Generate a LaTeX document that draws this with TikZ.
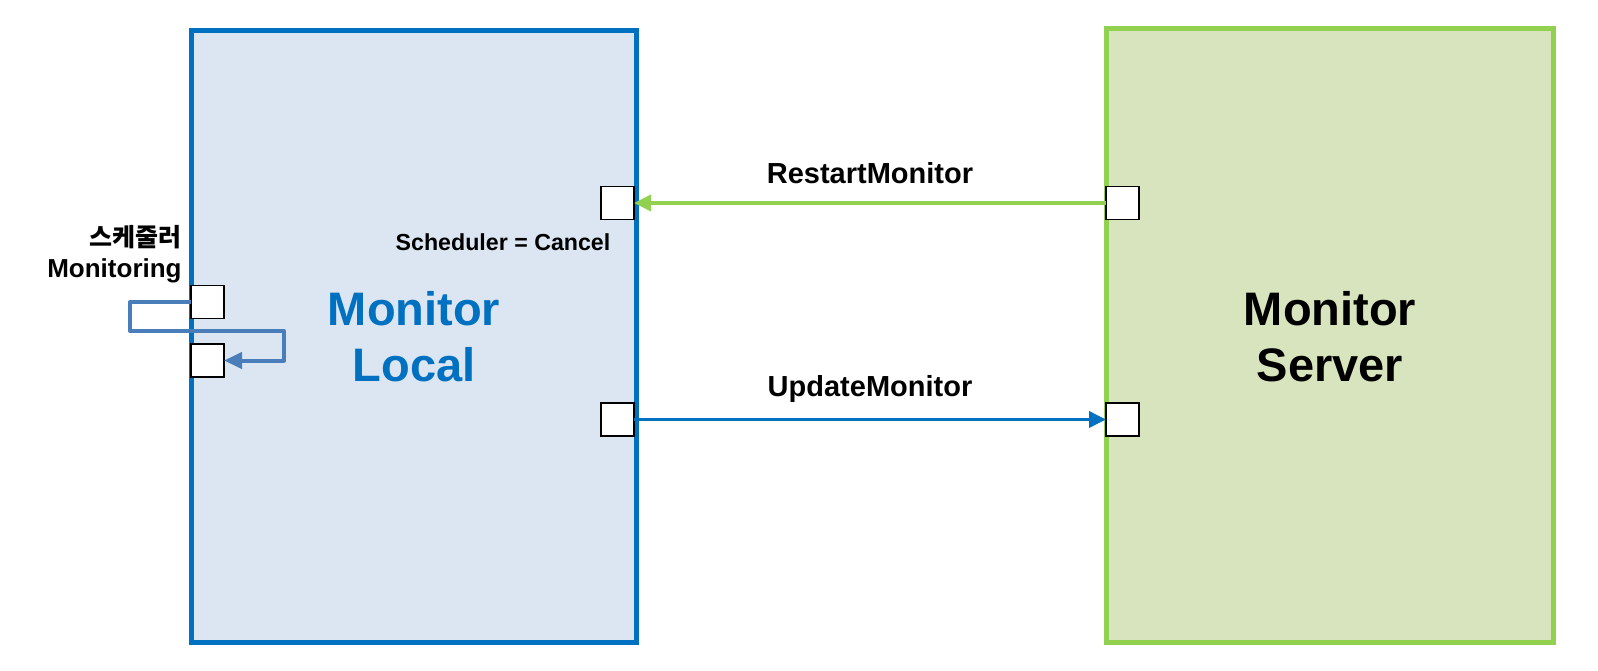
\documentclass[tikz,border=0pt]{standalone}
\usepackage{fontspec}
\setmainfont{Liberation Sans}
\newfontfamily\krfont{Noto Sans CJK KR}
\usetikzlibrary{arrows.meta}
\definecolor{locfill}{HTML}{DCE6F2}
\definecolor{locline}{HTML}{0070C0}
\definecolor{srvfill}{HTML}{D7E4BD}
\definecolor{srvline}{HTML}{92D050}
\definecolor{loopcol}{HTML}{4A7EBB}
\begin{document}
\begin{tikzpicture}[x=0.5pt,y=-0.5pt,
  port/.style={draw=black,fill=white,line width=0.9pt,minimum width=16.5pt,minimum height=16.5pt,inner sep=0pt,outer sep=0pt},
  conn/.style={line width=1.8pt,-{Triangle[length=8.5pt,width=8pt]}},
  lbl/.style={font=\bfseries\fontsize{14.5}{16}\selectfont,inner sep=0pt}]
\useasboundingbox (0,0) rectangle (1598,670);
% containers
\node[draw=locline,fill=locfill,line width=2.5pt,minimum width=222.5pt,minimum height=306pt,inner sep=0pt] (local) at (413.5,336) {};
\node[draw=srvline,fill=srvfill,line width=2.5pt,minimum width=223.5pt,minimum height=307pt,inner sep=0pt] (server) at (1329.5,335) {};
\node[font=\bfseries\fontsize{23.5}{28}\selectfont,text=locline,align=center,inner sep=0pt] (loctxt) at (414,337) {Monitor\\[0pt]Local};
\node[font=\bfseries\fontsize{23.5}{28}\selectfont,align=center,inner sep=0pt] (srvtxt) at (1330,337) {Monitor\\[0pt]Server};
% ports
\node[port] (lr1) at (617.5,203) {};
\node[port] (lr2) at (617.5,419.5) {};
\node[port] (sr1) at (1122.5,203) {};
\node[port] (sr2) at (1122.5,419.5) {};
\node[port] (ll1) at (207.5,302) {};
\node[port] (ll2) at (207.5,360.5) {};
% arrows
\draw[conn,draw=srvline] (sr1.west) -- (lr1.east);
\draw[conn,draw=locline] (lr2.east) -- (sr2.west);
\coordinate (c1) at (130,302);
\coordinate (c2) at (130,331);
\coordinate (c3) at (284,331);
\coordinate (c4) at (284,360.5);
\draw[draw=loopcol,line width=2pt,line join=round,-{Triangle[length=9pt,width=8pt]}] (ll1.west) -- (c1) -- (c2) -- (c3) -- (c4) -- (ll2.east);
% labels
\node[lbl] (rl) at (870,173) {RestartMonitor};
\node[lbl] (ul) at (870,389) {UpdateMonitor};
\node[font=\bfseries\fontsize{11.6}{13}\selectfont,inner sep=0pt] (sc) at (503,242) {Scheduler = Cancel};
\node[font=\bfseries\fontsize{12.5}{14}\selectfont,inner sep=0pt,anchor=east] (kr) at (182,237) {\krfont\bfseries 스케줄러};
\node[font=\bfseries\fontsize{13}{15}\selectfont,inner sep=0pt,anchor=east] (mon) at (182,271) {Monitoring};
\end{tikzpicture}
\end{document}
